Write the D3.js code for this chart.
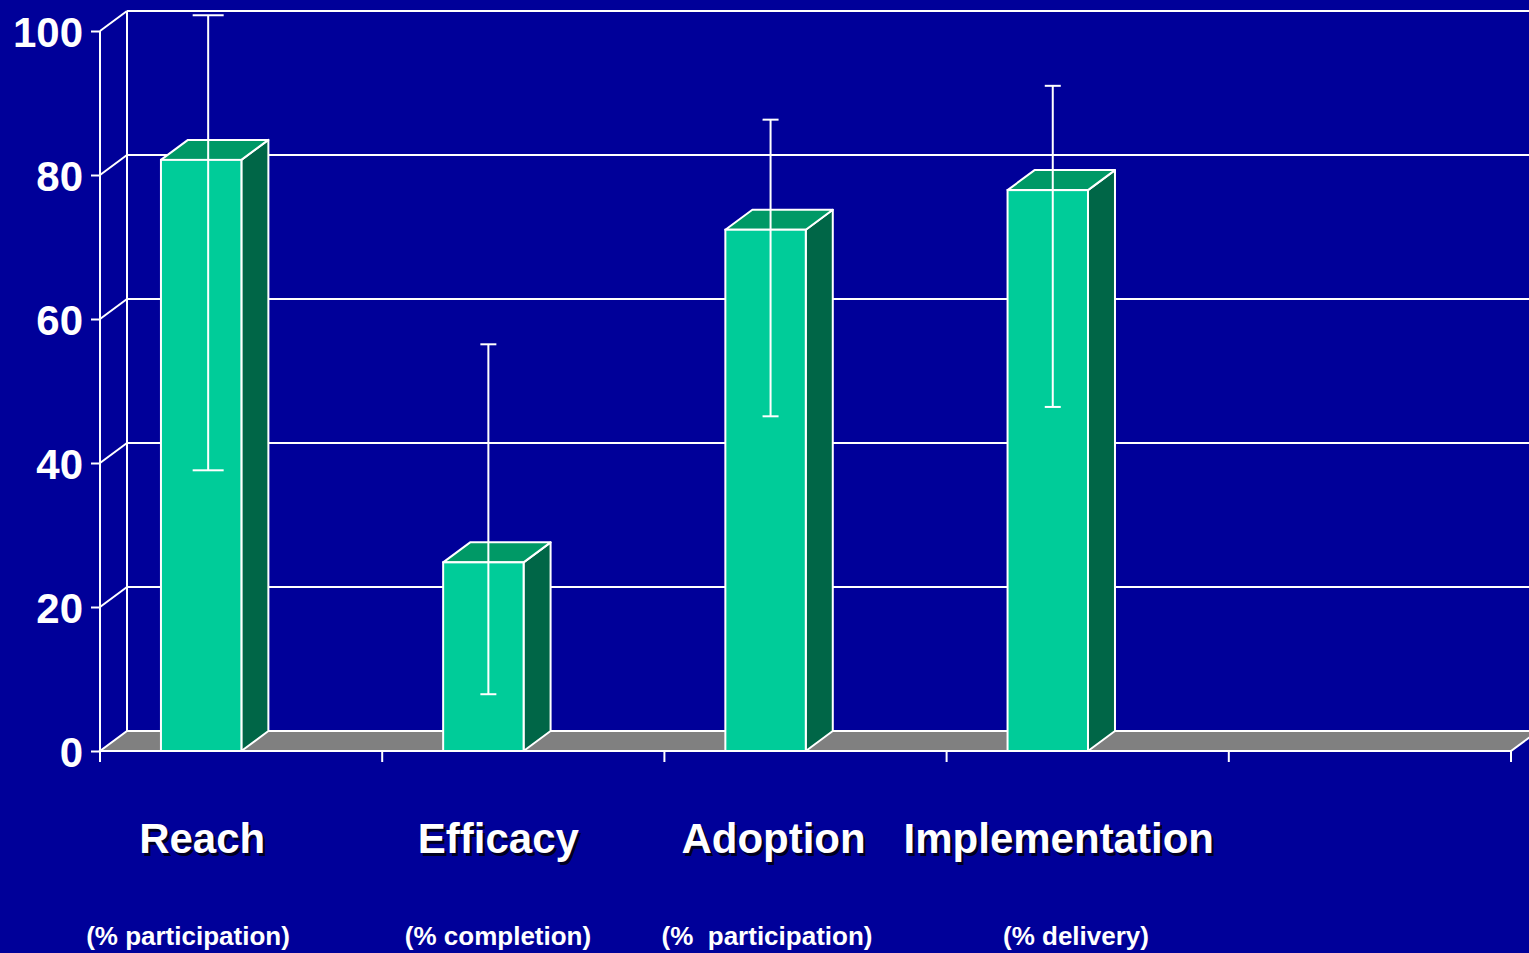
<!DOCTYPE html>
<html>
<head>
<meta charset="utf-8">
<script src="https://cdn.jsdelivr.net/npm/d3@7"></script>
<style>
  html, body { margin: 0; padding: 0; background: #000099; overflow: hidden; }
  svg { display: block; }
  text { font-family: "Liberation Sans", Arial, sans-serif; font-weight: bold; fill: #ffffff; white-space: pre; }
</style>
</head>
<body>
<svg id="chart" width="1529" height="953"></svg>
<script>
// RE-AIM outcome dimensions: mean percentage with low/high range
const categories = ["Reach", "Efficacy", "Adoption", "Implementation"];
const subtitles = ["(% participation)", "(% completion)", "(%  participation)", "(% delivery)"];
const means = [82.1, 26.2, 72.4, 77.9];
const rangeLow = [38.5, 7.4, 46.0, 47.3];
const rangeHigh = [101.7, 56.0, 87.2, 91.9];
const yTicks = [0, 20, 40, 60, 80, 100];
const slotCount = 5; // four dimensions plus an empty trailing slot

const W = 1529, H = 953;
const svg = d3.select("#chart");

// Plot geometry: front plane and depth offset of the 3D box
const plotLeft = 100, plotRight = 1511, plotTop = 31, plotBottom = 751;
const depthX = 27, depthY = -20;

const slots = d3.range(slotCount);
const x = d3.scaleBand().domain(slots).range([plotLeft, plotRight]).paddingInner(0).paddingOuter(0);
const y = d3.scaleLinear().domain([0, 100]).range([plotBottom, plotTop]);

const colors = {
  bg: "#000099",
  front: "#00CC99",
  top: "#009966",
  side: "#006647",
  floor: "#808080",
  line: "#ffffff"
};

svg.append("rect").attr("width", W).attr("height", H).attr("fill", colors.bg);

const g = svg.append("g");

// Back wall: vertical edge and horizontal gridlines
g.append("line")
  .attr("x1", plotLeft + depthX).attr("x2", plotLeft + depthX)
  .attr("y1", y(100) + depthY).attr("y2", y(0) + depthY)
  .attr("stroke", colors.line).attr("stroke-width", 2);

g.selectAll("line.grid").data(yTicks.filter(t => t > 0)).join("line")
  .attr("class", "grid")
  .attr("x1", plotLeft + depthX).attr("x2", plotRight + depthX + 40)
  .attr("y1", d => y(d) + depthY).attr("y2", d => y(d) + depthY)
  .attr("stroke", colors.line).attr("stroke-width", 2);

// Side wall diagonals joining front axis to back wall
g.selectAll("line.diag").data(yTicks.filter(t => t > 0)).join("line")
  .attr("class", "diag")
  .attr("x1", plotLeft).attr("x2", plotLeft + depthX)
  .attr("y1", d => y(d)).attr("y2", d => y(d) + depthY)
  .attr("stroke", colors.line).attr("stroke-width", 2);

// Floor
const floorPts = [
  [plotLeft, y(0)], [plotRight, y(0)], [plotRight + depthX, y(0) + depthY], [plotLeft + depthX, y(0) + depthY]
];
g.append("polygon")
  .attr("points", floorPts.map(p => p.join(",")).join(" "))
  .attr("fill", colors.floor)
  .attr("stroke", colors.line).attr("stroke-width", 2).attr("stroke-linejoin", "miter");

// Bars drawn as 3D boxes
const faceOffset = x.bandwidth() * 0.216;
const faceWidth = x.bandwidth() * 0.285;

const bars = g.selectAll("g.bar").data(categories.map((c, i) => ({ c, i, v: means[i] }))).join("g")
  .attr("class", "bar");

bars.each(function(d) {
  const sel = d3.select(this);
  const x0 = x(d.i) + faceOffset;
  const x1 = x0 + faceWidth;
  const yTop = y(d.v), yBot = y(0);
  // side face
  sel.append("polygon")
    .attr("points", [[x1, yTop], [x1 + depthX, yTop + depthY], [x1 + depthX, yBot + depthY], [x1, yBot]].map(p => p.join(",")).join(" "))
    .attr("fill", colors.side).attr("stroke", colors.line).attr("stroke-width", 2).attr("stroke-linejoin", "round");
  // top face
  sel.append("polygon")
    .attr("points", [[x0, yTop], [x0 + depthX, yTop + depthY], [x1 + depthX, yTop + depthY], [x1, yTop]].map(p => p.join(",")).join(" "))
    .attr("fill", colors.top).attr("stroke", colors.line).attr("stroke-width", 2).attr("stroke-linejoin", "round");
  // front face
  sel.append("rect")
    .attr("x", x0).attr("y", yTop).attr("width", faceWidth).attr("height", yBot - yTop)
    .attr("fill", colors.front).attr("stroke", colors.line).attr("stroke-width", 2);
});

// Range bars, set slightly into the depth of each box
const errDX = [7, 5, 5, 5], errDY = -3.5;
const capWidths = [31, 16, 16, 16];
const errG = g.selectAll("g.err").data(categories.map((c, i) => ({ i, lo: rangeLow[i], hi: rangeHigh[i] }))).join("g")
  .attr("class", "err");
errG.each(function(d) {
  const sel = d3.select(this);
  const cx = x(d.i) + faceOffset + faceWidth / 2 + errDX[d.i];
  const yl = y(d.lo) + errDY, yh = y(d.hi) + errDY;
  const cw = capWidths[d.i] / 2;
  sel.append("line").attr("x1", cx).attr("x2", cx).attr("y1", yh).attr("y2", yl)
    .attr("stroke", colors.line).attr("stroke-width", 2);
  sel.append("line").attr("x1", cx - cw).attr("x2", cx + cw).attr("y1", yh).attr("y2", yh)
    .attr("stroke", colors.line).attr("stroke-width", 2);
  sel.append("line").attr("x1", cx - cw).attr("x2", cx + cw).attr("y1", yl).attr("y2", yl)
    .attr("stroke", colors.line).attr("stroke-width", 2);
});

// Front Y axis
const yAxis = d3.axisLeft(y).tickValues(yTicks).tickSize(9).tickPadding(8).tickFormat(d3.format("d"));
const yAxisG = svg.append("g").attr("transform", `translate(${plotLeft},0)`).call(yAxis);
yAxisG.select(".domain").attr("stroke", colors.line).attr("stroke-width", 2)
  .attr("d", `M0,${plotTop}V${plotBottom + 11}`);
yAxisG.selectAll(".tick line").attr("stroke", colors.line).attr("stroke-width", 2);
yAxisG.selectAll(".tick text")
  .attr("fill", colors.line)
  .style("font-size", "42px")
  .style("font-family", "'Liberation Sans', Arial, sans-serif")
  .style("font-weight", "bold")
  .attr("dy", "0.37em");

// Front X axis with slot boundary ticks
const xEdges = d3.range(slotCount + 1).map(k => plotLeft + k * x.step());
const xAxisG = svg.append("g");
xAxisG.append("line").attr("x1", plotLeft).attr("x2", plotRight).attr("y1", plotBottom).attr("y2", plotBottom)
  .attr("stroke", colors.line).attr("stroke-width", 2);
xAxisG.selectAll("line.xt").data(xEdges).join("line").attr("class", "xt")
  .attr("x1", d => d).attr("x2", d => d).attr("y1", plotBottom).attr("y2", plotBottom + 11)
  .attr("stroke", colors.line).attr("stroke-width", 2);

// Category labels with drop shadow, and unit subtitles
const labelX = i => x(i) + faceOffset + faceWidth / 2 + 8;
const labelOffsets = [-7, 7, 0, 3];
const labels = svg.append("g");
categories.forEach((c, i) => {
  labels.append("text").attr("x", labelX(i) + labelOffsets[i] + 2.5).attr("y", 855.5)
    .attr("text-anchor", "middle").style("font-size", "42px").style("fill", "#000022").text(c);
  labels.append("text").attr("x", labelX(i) + labelOffsets[i]).attr("y", 853)
    .attr("text-anchor", "middle").style("font-size", "42px").text(c);
});
const subX = [188, 498, 767, 1076];
subtitles.forEach((s, i) => {
  labels.append("text").attr("x", subX[i]).attr("y", 945)
    .attr("text-anchor", "middle").style("font-size", "26px").text(s);
});
</script>
</body>
</html>
